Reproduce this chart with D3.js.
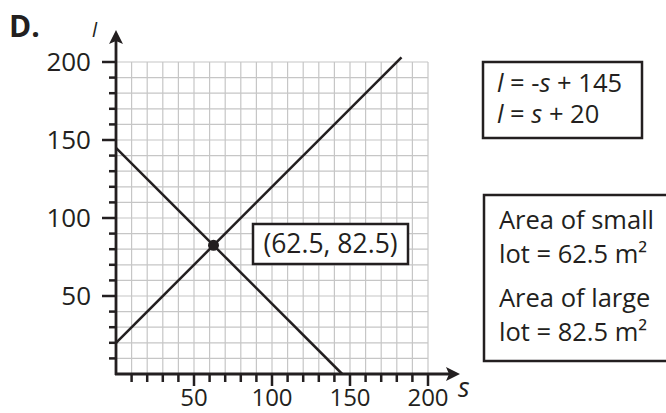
<!DOCTYPE html>
<html>
<head>
<meta charset="utf-8">
<script src="https://cdn.jsdelivr.net/npm/d3@7"></script>
<style>
  body { margin: 0; background: #fff; }
  svg { display: block; font-family: "Open Sans", sans-serif; }
</style>
</head>
<body>
<svg id="chart" width="666" height="413"></svg>
<script>
// axis values
const sDomain = [0, 200];
const lDomain = [0, 200];
const gridStep = 10;
const sTickLabels = [50, 100, 150, 200];
const lTickLabels = [50, 100, 150, 200];

// the two lines, l = slope * s + intercept, drawn from s = 0 to sEnd
const lineSlopes = [-1, 1];
const lineIntercepts = [145, 20];
const lineSEnd = [145, 183];

// intersection
const pointS = 62.5;
const pointL = 82.5;
const pointLabel = "(62.5, 82.5)";

// text boxes
const equations = [
    [{ t: "l", i: true }, { t: " = -" }, { t: "s", i: true }, { t: " + 145" }],
    [{ t: "l", i: true }, { t: " = " }, { t: "s", i: true }, { t: " + 20" }]
];
const areaNotes = ["Area of small", "lot = 62.5 m\u00b2", "Area of large", "lot = 82.5 m\u00b2"];

const ink = "#231f20";
const svg = d3.select("#chart");

const x = d3.scaleLinear().domain(sDomain).range([116, 428]);
const y = d3.scaleLinear().domain(lDomain).range([374, 62]);

const steps = d3.range(gridStep, sDomain[1] + 1, gridStep);

// grid
const grid = svg.append("g").attr("stroke", "#c6c6c6").attr("stroke-width", 1.2);
grid.selectAll("line.v").data(steps).join("line")
    .attr("x1", d => x(d)).attr("x2", d => x(d))
    .attr("y1", y(0)).attr("y2", y(lDomain[1]));
grid.selectAll("line.h").data(steps).join("line")
    .attr("y1", d => y(d)).attr("y2", d => y(d))
    .attr("x1", x(0)).attr("x2", x(sDomain[1]));

// tick marks
svg.append("g").selectAll("line").data(steps).join("line")
    .attr("x1", x(0))
    .attr("x2", d => x(0) - (lTickLabels.includes(d) ? 14 : 7))
    .attr("y1", d => y(d)).attr("y2", d => y(d))
    .attr("stroke", ink).attr("stroke-width", 2.5);
svg.append("g").selectAll("line").data(steps).join("line")
    .attr("y1", y(0))
    .attr("y2", d => y(0) + (sTickLabels.includes(d) ? 12 : 8))
    .attr("x1", d => x(d)).attr("x2", d => x(d))
    .attr("stroke", ink).attr("stroke-width", 2.5);

// axes with arrows
svg.append("line")
    .attr("x1", x(0)).attr("y1", y(0) + 1)
    .attr("x2", x(0)).attr("y2", 40)
    .attr("stroke", ink).attr("stroke-width", 2.8);
svg.append("line")
    .attr("x1", x(0) - 1).attr("y1", y(0))
    .attr("x2", 450).attr("y2", y(0))
    .attr("stroke", ink).attr("stroke-width", 2.8);
svg.append("path")
    .attr("d", `M${x(0)},30 L${x(0) + 7},44 L${x(0)},41 L${x(0) - 7},44 Z`)
    .attr("fill", ink);
svg.append("path")
    .attr("d", `M460,${y(0)} L446,${y(0) - 7} L449,${y(0)} L446,${y(0) + 7} Z`)
    .attr("fill", ink);

// tick labels
svg.append("g").selectAll("text").data(lTickLabels).join("text")
    .attr("x", 91).attr("y", d => y(d) + 9)
    .attr("text-anchor", "end")
    .attr("font-size", 26).attr("fill", ink)
    .text(d => d);
svg.append("g").selectAll("text").data(sTickLabels).join("text")
    .attr("x", d => x(d)).attr("y", 406)
    .attr("text-anchor", "middle")
    .attr("font-size", 24).attr("fill", ink)
    .text(d => d);

// axis names and panel letter
svg.append("text").attr("x", 9).attr("y", 37)
    .attr("font-size", 30).attr("font-weight", "bold").attr("fill", ink).text("D.");
svg.append("text").attr("x", 92).attr("y", 37)
    .attr("font-size", 20).attr("font-style", "italic").attr("fill", ink).text("l");
svg.append("text").attr("x", 458).attr("y", 397)
    .attr("font-size", 27).attr("font-style", "italic").attr("fill", ink).text("s");

// lines
const line = d3.line().x(d => x(d[0])).y(d => y(d[1]));
svg.append("g").selectAll("path").data(lineSlopes).join("path")
    .attr("d", (m, i) => line([[0, lineIntercepts[i]], [lineSEnd[i], m * lineSEnd[i] + lineIntercepts[i]]]))
    .attr("fill", "none").attr("stroke", ink).attr("stroke-width", 2.5);

// intersection
svg.append("circle").attr("cx", x(pointS)).attr("cy", y(pointL)).attr("r", 5.5).attr("fill", ink);

// point label box
svg.append("rect").attr("x", 253).attr("y", 224).attr("width", 155).attr("height", 40)
    .attr("fill", "#fff").attr("stroke", ink).attr("stroke-width", 2.5);
svg.append("text").attr("x", 330.5).attr("y", 253)
    .attr("text-anchor", "middle").attr("font-size", 26.5).attr("fill", ink)
    .text(pointLabel);

// equations box
svg.append("rect").attr("x", 483).attr("y", 62).attr("width", 159).attr("height", 76)
    .attr("fill", "#fff").attr("stroke", ink).attr("stroke-width", 2.5);
const eq = svg.append("g").selectAll("text").data(equations).join("text")
    .attr("x", 497).attr("y", (d, i) => 92 + i * 31)
    .attr("font-size", 25.5).attr("fill", ink);
eq.selectAll("tspan").data(d => d).join("tspan")
    .attr("font-style", d => d.i ? "italic" : null)
    .text(d => d.t);

// area box
svg.append("rect").attr("x", 484).attr("y", 195).attr("width", 200).attr("height", 166)
    .attr("fill", "#fff").attr("stroke", ink).attr("stroke-width", 2.5);
svg.append("g").selectAll("text").data(areaNotes).join("text")
    .attr("x", 499).attr("y", (d, i) => [229, 263, 307, 341][i])
    .attr("font-size", 25.5).attr("fill", ink)
    .text(d => d);
</script>
</body>
</html>
